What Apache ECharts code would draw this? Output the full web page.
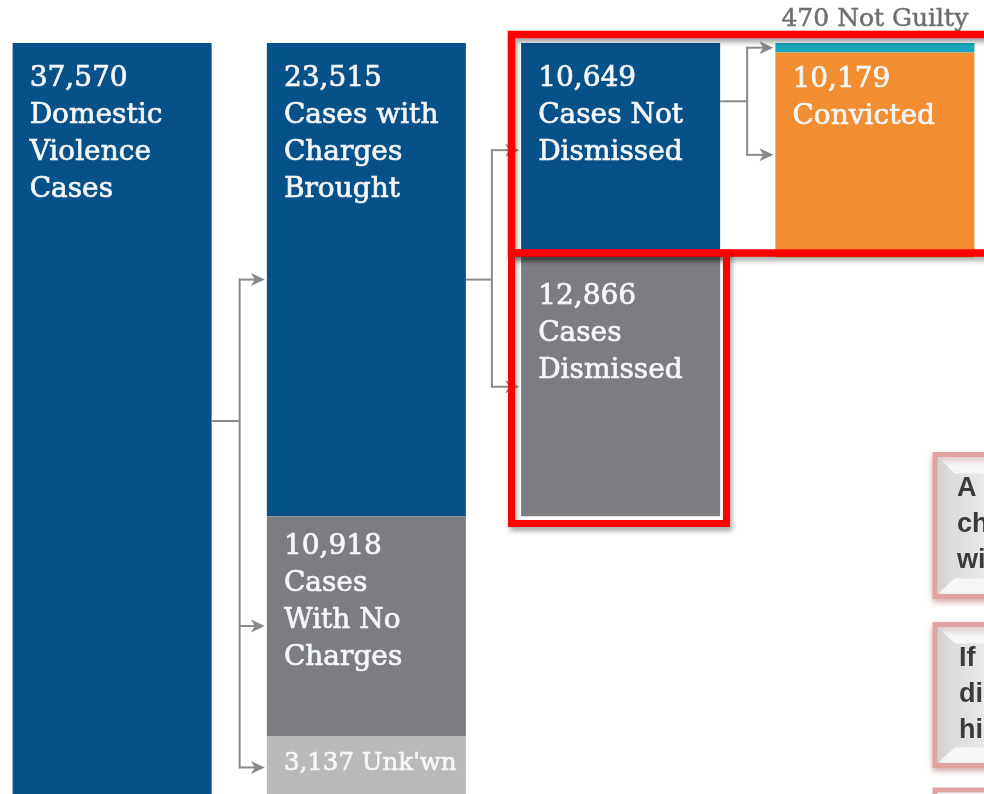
<!DOCTYPE html>
<html>
<head>
<meta charset="utf-8">
<script src="https://cdn.jsdelivr.net/npm/echarts@6/dist/echarts.min.js"></script>
<style>
html,body{margin:0;padding:0;background:#fff;}
#chart{width:984px;height:794px;}
</style>
</head>
<body>
<div id="chart"></div>
<script>
// ---- data ----
const categories = ['Reported', 'Charging', 'Dismissal', 'Outcome'];
const topValues = [37570, 23515, 10649, 470];
const topNames = ['Domestic\nViolence\nCases', 'Cases with\nCharges\nBrought', 'Cases Not\nDismissed', 'Not Guilty'];
const midValues = [null, 10918, 12866, 10179];
const midNames = [null, 'Cases\nWith No\nCharges', 'Cases\nDismissed', 'Convicted'];
const lowValues = [null, 3137, null, null];
const lowNames = [null, "Unk'wn", null, null];
const noteLines1 = ['A', 'ch', 'wi'];
const noteLines2 = ['If', 'di', 'hi'];

// ---- styles ----
const BLUE = '#07518a', GRAY = '#7b7d80', LGRAY = '#b9b9ba', ORANGE = '#f38d31', TEAL = '#1aa7bd';
const topColors = [BLUE, BLUE, BLUE, TEAL];
const midColors = [null, GRAY, GRAY, ORANGE];
const lowColors = [null, LGRAY, null, null];
const topPad = [17, 17, 17, 0];
const midPad = [0, 12, 21, 9];
const lowPad = [0, 9, 0, 0];
const FONT = 'DejaVu Serif';

function fmt(v) { return v.toLocaleString('en-US'); }

function mkLabel(pad, text, size) {
  return {
    show: true, position: 'insideTopLeft', distance: 0,
    padding: [pad, 0, 0, 17], color: '#f4f6f8',
    textBorderColor: '#f4f6f8', textBorderWidth: 0.7,
    fontFamily: FONT, fontSize: size || 28, lineHeight: 37, formatter: text
  };
}

function buildData(values, names, colors, pads, sep, size) {
  return values.map((v, i) => {
    if (v == null) return null;
    return {
      value: v,
      itemStyle: { color: colors[i] },
      label: mkLabel(pads[i], fmt(v) + sep + names[i], size)
    };
  });
}

const topData = buildData(topValues, topNames, topColors, topPad, '\n');
// the small "Not Guilty" slice is labelled above the bar
topData[3].label = {
  show: true, position: 'top', distance: 5, color: '#6e6e6e',
  textBorderColor: '#6e6e6e', textBorderWidth: 0.5,
  fontFamily: FONT, fontSize: 25, lineHeight: 37,
  formatter: fmt(topValues[3]) + ' ' + topNames[3]
};

const chart = echarts.init(document.getElementById('chart'), null, { renderer: 'canvas' });

const barCommon = { type: 'bar', stack: 'flow', barWidth: 199, silent: true, emphasis: { disabled: true } };

chart.setOption({
  animation: false,
  backgroundColor: '#ffffff',
  grid: { left: -15, width: 1017, top: 43, height: 756, containLabel: false, outerBoundsMode: 'none' },
  xAxis: { type: 'category', data: categories, show: false },
  yAxis: { type: 'value', inverse: true, min: 0, max: 37570, show: false },
  series: [
    Object.assign({ name: 'top', data: topData }, barCommon),
    Object.assign({ name: 'mid', data: buildData(midValues, midNames, midColors, midPad, '\n') }, barCommon),
    Object.assign({ name: 'low', data: buildData(lowValues, lowNames, lowColors, lowPad, ' ', 24.5) }, barCommon)
  ]
});

// ---- connectors computed from the bar layout ----
const HALF = 99.5;
function px(cat, val) { return chart.convertToPixel({ gridIndex: 0 }, [cat, val]); }
function segments(cat) {
  const segs = [];
  let acc = 0;
  [topValues[cat], midValues[cat], lowValues[cat]].forEach(v => {
    if (v != null) { segs.push([acc, acc + v]); acc += v; }
  });
  return segs;
}
function midY(cat, seg) { return (px(cat, seg[0])[1] + px(cat, seg[1])[1]) / 2; }

const LINE = '#8a8a8a';
const graphics = [];
function connector(fromCat, srcY, gap) {
  const toCat = fromCat + 1;
  const right = px(fromCat, 0)[0] + HALF;
  const left = px(toCat, 0)[0] - HALF;
  const trunk = right + gap;
  const ys = segments(toCat).map(s => midY(toCat, s));
  const sy = srcY == null ? (Math.min(...ys) + Math.max(...ys)) / 2 : srcY;
  graphics.push({ type: 'line', z: 50, shape: { x1: right, y1: sy, x2: trunk, y2: sy }, style: { stroke: LINE, lineWidth: 2 } });
  const y0 = Math.min(sy, ...ys), y1 = Math.max(sy, ...ys);
  graphics.push({ type: 'line', z: 50, shape: { x1: trunk, y1: y0 - 1, x2: trunk, y2: y1 + 1 }, style: { stroke: LINE, lineWidth: 2 } });
  ys.forEach(y => {
    const tip = left - 2;
    graphics.push({ type: 'line', z: 50, shape: { x1: trunk, y1: y, x2: tip - 6, y2: y }, style: { stroke: LINE, lineWidth: 2 } });
    graphics.push({ type: 'polygon', z: 50, shape: { points: [[tip, y], [tip - 14, y - 6.5], [tip - 10, y], [tip - 14, y + 6.5]] }, style: { fill: LINE } });
  });
}
connector(0, midY(0, segments(0)[0]), 28);
connector(1, midY(1, segments(1)[0]), 26);
connector(2, null, 27);

// ---- red highlight frames ----
const redStyle = { fill: 'none', stroke: '#ff0000', lineWidth: 7, shadowBlur: 5, shadowOffsetX: 2, shadowOffsetY: 4, shadowColor: 'rgba(0,0,0,0.35)' };
graphics.push({ type: 'rect', z: 90, shape: { x: 511.5, y: 34.5, width: 520, height: 218.5 }, style: Object.assign({}, redStyle, { lineWidth: 7.5 }) });
graphics.push({ type: 'rect', z: 90, shape: { x: 511.5, y: 253, width: 215, height: 270.5 }, style: redStyle });

// ---- side note boxes (cut by the right edge) ----
function noteBox(y, h, lines, textX) {
  const x = 935;
  graphics.push({ type: 'rect', z: 60, shape: { x: x, y: y, width: 120, height: h },
    style: { fill: '#f7f7f7', stroke: '#e1a3a3', lineWidth: 5, shadowBlur: 6, shadowOffsetY: 3, shadowColor: 'rgba(150,60,60,0.35)' } });
  graphics.push({ type: 'polygon', z: 61, shape: { points: [[x + 3, y + 3], [x + 20, y + 19], [x + 20, y + h - 18], [x + 3, y + h - 3]] },
    style: { fill: new echarts.graphic.LinearGradient(x + 3, 0, x + 20, 0, [{ offset: 0, color: '#d2d2d2' }, { offset: 1, color: '#dedede' }], true) } });
  graphics.push({ type: 'rect', z: 61, shape: { x: x + 20, y: y + 19, width: 100, height: h - 37 },
    style: { fill: new echarts.graphic.LinearGradient(x + 20, 0, 990, 0, [{ offset: 0, color: '#dcdcdc' }, { offset: 1, color: '#ececec' }], true) } });
  lines.forEach((t, i) => {
    graphics.push({ type: 'text', z: 62, style: { text: t, x: textX, y: y + 34 + i * 36, fill: '#3a3a3a',
      fontSize: 27, fontWeight: 'bold', fontFamily: '"Liberation Sans", "Open Sans", sans-serif', verticalAlign: 'middle', align: 'left' } });
  });
}
noteBox(454.5, 142, noteLines1, 957);
noteBox(624.5, 141, noteLines2, 959);
graphics.push({ type: 'rect', z: 60, shape: { x: 935, y: 790, width: 120, height: 60 },
  style: { fill: '#f7f7f7', stroke: '#e1a3a3', lineWidth: 5 } });

chart.setOption({ graphic: graphics });
</script>
</body>
</html>
